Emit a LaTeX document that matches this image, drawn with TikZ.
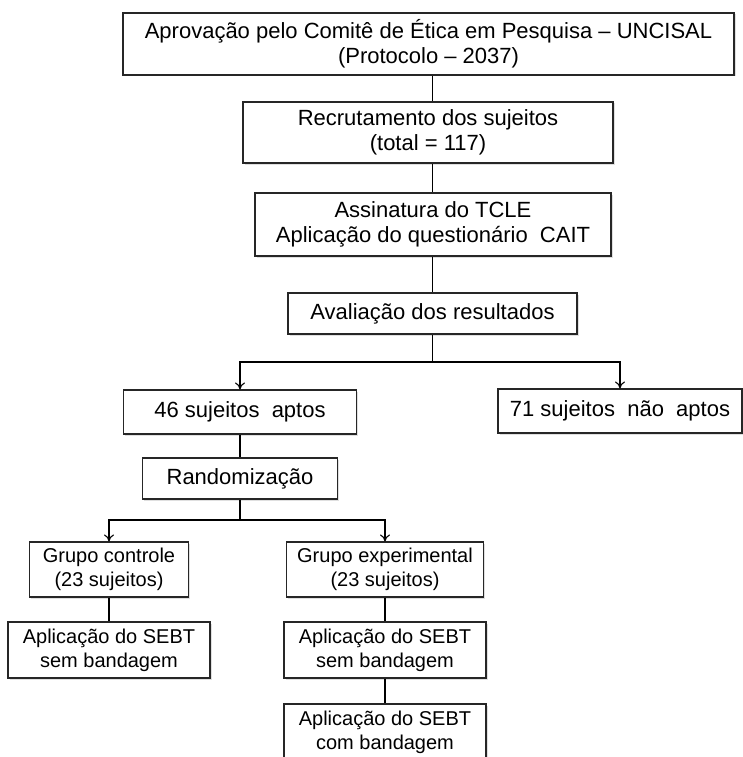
\documentclass[tikz,border=0pt]{standalone}
\usepackage{fontspec}
\setmainfont{Liberation Sans}
\usetikzlibrary{arrows.meta,shadows}

\begin{document}
\begin{tikzpicture}[x=1pt,y=-1pt,line width=1.1pt,
    caixa/.style={draw=black!85,fill=white,align=center,inner sep=0pt,
      drop shadow={shadow xshift=1.5pt,shadow yshift=-1.5pt,opacity=0.25},
      font=\fontsize{22}{25}\selectfont},
    caixap/.style={caixa,font=\fontsize{20}{24}\selectfont},
    seta/.style={-{To[length=7pt,width=10pt]}}]

    \fill[white] (0,0) rectangle (742,757);
    \useasboundingbox (0,0) rectangle (742,757);

    \node[caixa,minimum width=611pt,minimum height=62pt] (etica) at (428.5,44) {Aprovação pelo Comitê de Ética em Pesquisa – UNCISAL\\(Protocolo – 2037)};
    \node[caixa,minimum width=370pt,minimum height=61pt] (recrut) at (428,132.5) {Recrutamento dos sujeitos\\(total = 117)};
    \node[caixa,minimum width=356pt,minimum height=63pt] (tcle) at (433,224.5) {Assinatura do TCLE\\Aplicação do questionário~ CAIT};
    \node[caixa,minimum width=289pt,minimum height=41pt] (aval) at (432.5,313.5) {Avaliação dos resultados};

    \node[caixa,minimum width=233pt,minimum height=44pt] (aptos) at (240,412) {46 sujeitos~ aptos};
    \node[caixa,minimum width=244pt,minimum height=44pt] (naoaptos) at (620,411) {71 sujeitos~ não~ aptos};
    \node[caixa,minimum width=195pt,minimum height=41pt] (random) at (240,478.5) {Randomização};

    \node[caixap,minimum width=159pt,minimum height=55pt] (controle) at (109,569.5) {Grupo controle\\(23 sujeitos)};
    \node[caixap,minimum width=197pt,minimum height=55pt] (exper) at (385,569.5) {Grupo experimental\\(23 sujeitos)};
    \node[caixap,minimum width=202pt,minimum height=56pt] (sem1) at (109,650) {Aplicação do SEBT\\sem bandagem};
    \node[caixap,minimum width=202pt,minimum height=56pt] (sem2) at (385,650) {Aplicação do SEBT\\sem bandagem};
    \node[caixap,minimum width=202pt,minimum height=56pt] (com) at (385,732) {Aplicação do SEBT\\com bandagem};

    \coordinate (m1) at (432.5,362);
    \coordinate (m2) at (240,520);

    \draw (etica.south -| aval) -- (recrut.north -| aval);
    \draw (recrut.south -| aval) -- (tcle.north -| aval);
    \draw (tcle.south -| aval) -- (aval.north);
    \draw (aval) -- (m1);
    \draw[seta] (m1) -| (aptos);
    \draw[seta] (m1) -| (naoaptos);
    \draw (aptos) -- (random);
    \draw (random) -- (m2);
    \draw[seta] (m2) -| (controle);
    \draw[seta] (m2) -| (exper);
    \draw (controle) -- (sem1);
    \draw (exper) -- (sem2);
    \draw (sem2) -- (com);

\end{tikzpicture}
\end{document}
